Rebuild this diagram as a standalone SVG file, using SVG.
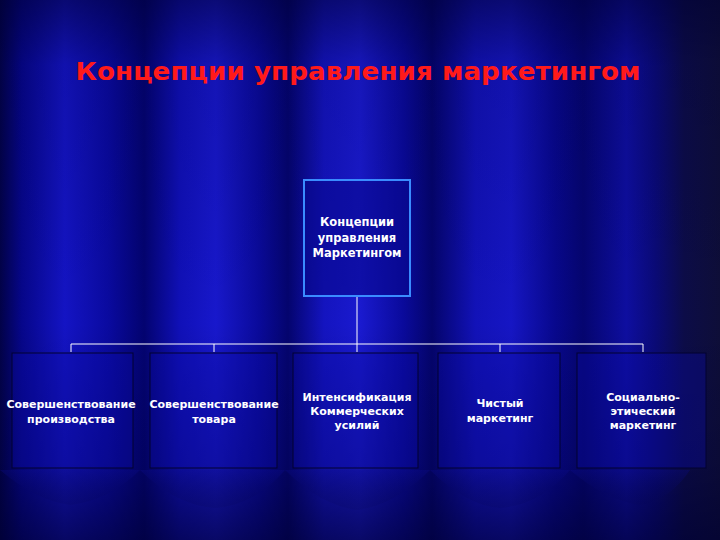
<svg xmlns="http://www.w3.org/2000/svg" width="720" height="540" viewBox="0 0 720 540">
<defs>
<linearGradient id="folds" x1="0" y1="0" x2="720" y2="0" gradientUnits="userSpaceOnUse">
<stop offset="0" stop-color="#020248"/>
<stop offset="0.03" stop-color="#06068a"/>
<stop offset="0.09" stop-color="#1414c4"/>
<stop offset="0.15" stop-color="#0a0aa0"/>
<stop offset="0.2" stop-color="#030370"/>
<stop offset="0.25" stop-color="#1010b8"/>
<stop offset="0.3" stop-color="#1818cc"/>
<stop offset="0.36" stop-color="#0a0a9a"/>
<stop offset="0.4" stop-color="#04046e"/>
<stop offset="0.45" stop-color="#1414c0"/>
<stop offset="0.5" stop-color="#1a1ad0"/>
<stop offset="0.56" stop-color="#0a0a9c"/>
<stop offset="0.6" stop-color="#04046c"/>
<stop offset="0.66" stop-color="#1212b8"/>
<stop offset="0.71" stop-color="#1616c4"/>
<stop offset="0.77" stop-color="#08088e"/>
<stop offset="0.81" stop-color="#050570"/>
<stop offset="0.87" stop-color="#0e0ea0"/>
<stop offset="0.91" stop-color="#0a0a78"/>
<stop offset="0.95" stop-color="#0c0c48"/>
<stop offset="1" stop-color="#0e0e38"/>
</linearGradient>
<linearGradient id="shade" x1="0" y1="0" x2="0" y2="1">
<stop offset="0" stop-color="#000030" stop-opacity="0.55"/>
<stop offset="0.12" stop-color="#000030" stop-opacity="0.15"/>
<stop offset="0.6" stop-color="#000030" stop-opacity="0"/>
<stop offset="0.86" stop-color="#000030" stop-opacity="0.25"/>
<stop offset="1" stop-color="#000030" stop-opacity="0.65"/>
</linearGradient>
<linearGradient id="drape" x1="0" y1="0" x2="0" y2="1">
<stop offset="0" stop-color="#1212c0" stop-opacity="0.55"/>
<stop offset="1" stop-color="#04045a" stop-opacity="0.2"/>
</linearGradient>
<style>
.t{font-family:"DejaVu Sans","Liberation Sans",sans-serif;font-weight:bold;}
.title{fill:#ff1a1a;font-size:24px;}
.lbl{fill:#ffffff;font-size:11px;}
.box{fill:#0c0ca8;fill-opacity:0.35;stroke:#020230;stroke-width:1;}
.top{fill:#080890;fill-opacity:0.6;stroke:#3a8cff;stroke-width:2;}
.con{stroke:#ffffff;stroke-width:1;fill:none;}
</style>
</defs>
<rect width="720" height="540" fill="url(#folds)"/>
<g opacity="0.5">
<path d="M0 470 Q35 500 70 505 Q110 500 140 470 Q175 505 215 508 Q255 505 285 470 Q320 505 357 510 Q395 505 430 470 Q465 505 500 508 Q540 505 570 470 Q605 500 640 505 Q670 500 690 470 L0 470 Z" fill="url(#drape)"/>
</g>
<rect width="720" height="540" fill="url(#shade)"/>
<text class="t title" x="358" y="80" text-anchor="middle" textLength="565" lengthAdjust="spacingAndGlyphs">Концепции управления маркетингом</text>
<g id="connectors">
<path class="con" d="M357 296 V344 M71 344 H643 M71 344 V352 M214 344 V352 M357 344 V352 M500 344 V352 M643 344 V352"/>
</g>
<g id="root">
<rect class="top" x="304" y="180" width="106" height="116"/>
<text class="t lbl" x="357" y="226" text-anchor="middle" style="font-size:11.5px">Концепции</text>
<text class="t lbl" x="357" y="242" text-anchor="middle" style="font-size:11.5px">управления</text>
<text class="t lbl" x="357" y="257" text-anchor="middle" style="font-size:11.5px">Маркетингом</text>
</g>
<g id="n1">
<rect class="box" x="12" y="353" width="121" height="115"/>
<text class="t lbl" x="71" y="408" text-anchor="middle">Совершенствование</text>
<text class="t lbl" x="71" y="423" text-anchor="middle">производства</text>
</g>
<g id="n2">
<rect class="box" x="150" y="353" width="127" height="115"/>
<text class="t lbl" x="214" y="408" text-anchor="middle">Совершенствование</text>
<text class="t lbl" x="214" y="423" text-anchor="middle">товара</text>
</g>
<g id="n3">
<rect class="box" x="293" y="353" width="125" height="115"/>
<text class="t lbl" x="357" y="401" text-anchor="middle">Интенсификация</text>
<text class="t lbl" x="357" y="415" text-anchor="middle">Коммерческих</text>
<text class="t lbl" x="357" y="429" text-anchor="middle">усилий</text>
</g>
<g id="n4">
<rect class="box" x="438" y="353" width="122" height="115"/>
<text class="t lbl" x="500" y="407" text-anchor="middle">Чистый</text>
<text class="t lbl" x="500" y="422" text-anchor="middle">маркетинг</text>
</g>
<g id="n5">
<rect class="box" x="577" y="353" width="129" height="115"/>
<text class="t lbl" x="643" y="401" text-anchor="middle">Социально-</text>
<text class="t lbl" x="643" y="415" text-anchor="middle">этический</text>
<text class="t lbl" x="643" y="429" text-anchor="middle">маркетинг</text>
</g>
</svg>
